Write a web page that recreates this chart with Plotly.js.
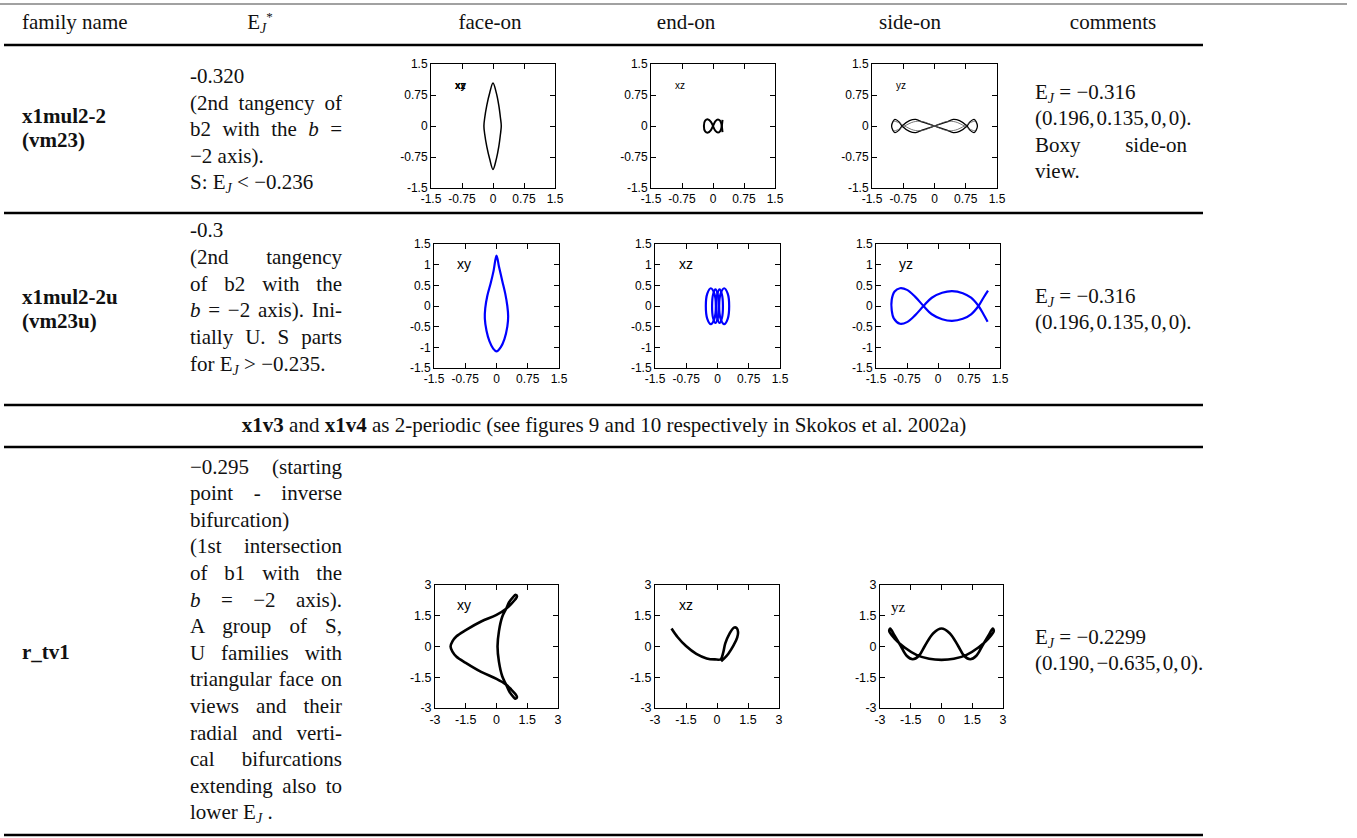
<!DOCTYPE html>
<html><head><meta charset="utf-8">
<script src="https://cdn.plot.ly/plotly-3.0.1.min.js"></script>
<style>
html,body{margin:0;padding:0;background:#fff;}
#wrap{position:relative;width:1357px;height:838px;overflow:hidden;background:#fff;}
#plot{position:absolute;left:0;top:0;width:1357px;height:838px;}
.t{position:absolute;font-family:"Liberation Serif","Times New Roman",serif;font-size:21px;line-height:26px;color:#111;white-space:nowrap;z-index:2;}
.j{width:152px;white-space:normal;text-align:justify;text-align-last:justify;}
.b{font-weight:bold;}
.n{line-height:24px;}
.c{text-align:center;}
sub.J{font-size:14px;font-style:italic;vertical-align:-4px;line-height:0;}
sup.st{font-size:13px;vertical-align:8px;line-height:0;}
.cm{margin-right:2px;}
</style></head><body>
<div id="wrap">
<div id="plot"></div>

<div class="t" style="left:22px;top:9px">family name</div>
<div class="t c" style="left:210px;top:9px;width:100px">E<sub class="J">J</sub><sup class="st">*</sup></div>
<div class="t c" style="left:440px;top:9px;width:100px">face-on</div>
<div class="t c" style="left:636px;top:9px;width:100px">end-on</div>
<div class="t c" style="left:860px;top:9px;width:100px">side-on</div>
<div class="t c" style="left:1063px;top:9px;width:100px">comments</div>

<div class="t b n" style="left:22px;top:104px">x1mul2-2<br>(vm23)</div>
<div class="t" style="left:190px;top:63px">-0.320</div>
<div class="t j" style="left:190px;top:89.5px">(2nd tangency of</div>
<div class="t j" style="left:190px;top:116px">b2 with the <i>b</i> =</div>
<div class="t" style="left:190px;top:142.5px">&minus;2 axis).</div>
<div class="t" style="left:190px;top:169px">S: E<sub class="J">J</sub> &lt; &minus;0.236</div>
<div class="t" style="left:1035px;top:78.5px">E<sub class="J">J</sub> = &minus;0.316</div>
<div class="t" style="left:1035px;top:105px">(0.196,<span class="cm"></span>0.135,<span class="cm"></span>0,<span class="cm"></span>0).</div>
<div class="t j" style="left:1035px;top:131.5px">Boxy side-on</div>
<div class="t" style="left:1035px;top:158px">view.</div>

<div class="t b n" style="left:22px;top:285px">x1mul2-2u<br>(vm23u)</div>
<div class="t" style="left:190px;top:217px">-0.3</div>
<div class="t j" style="left:190px;top:244px">(2nd tangency</div>
<div class="t j" style="left:190px;top:270.5px">of b2 with the</div>
<div class="t j" style="left:190px;top:297px"><i>b</i> = &minus;2 axis). Ini-</div>
<div class="t j" style="left:190px;top:324px">tially U. S parts</div>
<div class="t" style="left:190px;top:350.5px">for E<sub class="J">J</sub> &gt; &minus;0.235.</div>
<div class="t" style="left:1035px;top:283px">E<sub class="J">J</sub> = &minus;0.316</div>
<div class="t" style="left:1035px;top:309px">(0.196,<span class="cm"></span>0.135,<span class="cm"></span>0,<span class="cm"></span>0).</div>

<div class="t c" style="left:5px;top:412px;width:1198px"><b>x1v3</b> and <b>x1v4</b> as 2-periodic (see figures 9 and 10 respectively in Skokos et al. 2002a)</div>

<div class="t b" style="left:22px;top:639px">r_tv1</div>
<div class="t j" style="left:190px;top:453.5px">&minus;0.295 (starting</div>
<div class="t j" style="left:190px;top:480.1px">point - inverse</div>
<div class="t" style="left:190px;top:506.7px">bifurcation)</div>
<div class="t j" style="left:190px;top:533.3px">(1st intersection</div>
<div class="t j" style="left:190px;top:559.9px">of b1 with the</div>
<div class="t j" style="left:190px;top:586.5px"><i>b</i> = &minus;2 axis).</div>
<div class="t j" style="left:190px;top:613.1px">A group of S,</div>
<div class="t j" style="left:190px;top:639.7px">U families with</div>
<div class="t j" style="left:190px;top:666.3px">triangular face on</div>
<div class="t j" style="left:190px;top:692.9px">views and their</div>
<div class="t j" style="left:190px;top:719.5px">radial and verti-</div>
<div class="t j" style="left:190px;top:746.1px">cal bifurcations</div>
<div class="t j" style="left:190px;top:772.7px">extending also to</div>
<div class="t" style="left:190px;top:799.3px">lower E<sub class="J">J</sub> .</div>
<div class="t" style="left:1035px;top:624px">E<sub class="J">J</sub> = &minus;0.2299</div>
<div class="t" style="left:1035px;top:650px">(0.190,<span class="cm"></span>&minus;0.635,<span class="cm"></span>0,<span class="cm"></span>0).</div>
</div>

<script>
// ---------------- data ----------------
const familyNames = ["x1mul2-2", "x1mul2-2u", "r_tv1"];
const viewNames = ["face-on", "end-on", "side-on"];

const ticks15 = [-1.5, -0.75, 0, 0.75, 1.5];
const ticks15Text = ["-1.5", "-0.75", "0", "0.75", "1.5"];
const ticksHalf = [-1.5, -1, -0.5, 0, 0.5, 1, 1.5];
const ticksHalfText = ["-1.5", "-1", "-0.5", "0", "0.5", "1", "1.5"];
const ticks3 = [-3, -1.5, 0, 1.5, 3];
const ticks3Text = ["-3", "-1.5", "0", "1.5", "3"];

// x1mul2-2 (vm23)
const vm23_xy_x = [0.0, 0.08, 0.14, 0.18, 0.2, 0.18, 0.14, 0.08, 0.0, -0.08, -0.15, -0.2, -0.22, -0.2, -0.15, -0.08, 0.0];
const vm23_xy_y = [1.04, 0.8, 0.5, 0.2, 0.0, -0.2, -0.5, -0.8, -1.05, -0.8, -0.5, -0.2, 0.0, 0.2, 0.5, 0.8, 1.04];
const vm23_xz_x = [0, -0.05, -0.12, -0.19, -0.22, -0.19, -0.12, -0.05, 0, 0.06, 0.12, 0.17, 0.2, 0.23, null, 0.23, 0.2, 0.17, 0.12, 0.06, 0];
const vm23_xz_z = [0, 0.1, 0.16, 0.13, 0, -0.13, -0.16, -0.1, 0, 0.12, 0.16, 0.13, 0.06, -0.15, null, 0.15, -0.06, -0.13, -0.16, -0.12, 0];
const vm23_yz_y = [-1.03, -1.0, -0.95, -0.85, -0.78, -0.6, -0.45, -0.3, -0.15, 0, 0.15, 0.3, 0.45, 0.6, 0.78, 0.85, 0.95, 1.0, 1.03,
                   1.0, 0.95, 0.85, 0.78, 0.6, 0.45, 0.3, 0.15, 0, -0.15, -0.3, -0.45, -0.6, -0.78, -0.85, -0.95, -1.0, -1.03];
const vm23_yz_z = [0, 0.1, 0.16, 0.1, 0, -0.13, -0.16, -0.1, -0.05, 0, 0.05, 0.1, 0.16, 0.13, 0, -0.1, -0.16, -0.1, 0,
                   0.1, 0.16, 0.1, 0, -0.13, -0.16, -0.1, -0.05, 0, 0.05, 0.1, 0.16, 0.13, 0, -0.1, -0.16, -0.1, 0];
const vm23_yz2_y = [-0.98, -0.9, -0.72, -0.5, -0.3, 0, 0.3, 0.5, 0.72, 0.9, 0.98, null, 0.98, 0.9, 0.72, 0.5, 0.3, 0, -0.3, -0.5, -0.72, -0.9, -0.98];
const vm23_yz2_z = [0.12, 0.1, 0.0, -0.1, -0.11, 0, 0.11, 0.1, 0.0, -0.1, -0.12, null, 0.12, 0.1, 0.0, -0.1, -0.11, 0, 0.11, 0.1, 0.0, -0.1, -0.12];

// x1mul2-2u (vm23u)
const vm23u_xy_x = [0.0, 0.06, 0.14, 0.21, 0.26, 0.28, 0.26, 0.19, 0.1, 0.0, -0.08, -0.17, -0.24, -0.28, -0.27, -0.22, -0.14, -0.07, 0.0];
const vm23u_xy_y = [1.22, 0.95, 0.6, 0.3, 0.0, -0.25, -0.5, -0.8, -1.0, -1.1, -1.03, -0.85, -0.6, -0.3, -0.05, 0.25, 0.55, 0.85, 1.22];
const vm23u_xz_x = [-0.04, -0.075, -0.16, -0.245, -0.28, -0.245, -0.16, -0.075, -0.04, null,
                    0.03, 0.006, -0.05, -0.106, -0.13, -0.106, -0.05, 0.006, 0.03, null,
                    0.13, 0.106, 0.05, -0.006, -0.03, -0.006, 0.05, 0.106, 0.13, null,
                    0.28, 0.245, 0.16, 0.075, 0.04, 0.075, 0.16, 0.245, 0.28];
const vm23u_xz_z = [0, 0.3, 0.43, 0.3, 0, -0.31, -0.44, -0.31, 0, null,
                    0, 0.28, 0.4, 0.28, 0, -0.29, -0.41, -0.29, 0, null,
                    0, 0.28, 0.4, 0.28, 0, -0.29, -0.41, -0.29, 0, null,
                    0, 0.3, 0.43, 0.3, 0, -0.31, -0.44, -0.31, 0];
const vm23u_yz_y = [1.21, 1.1, 0.98, 0.8, 0.6, 0.34, 0.1, -0.15, -0.35, -0.55, -0.75, -0.92, -1.05, -1.12, -1.12, -1.07, -0.92, -0.75, -0.55, -0.35, -0.15, 0.1, 0.34, 0.6, 0.8, 0.98, 1.1, 1.2];
const vm23u_yz_z = [0.37, 0.2, 0.0, -0.2, -0.31, -0.36, -0.32, -0.2, 0.0, 0.22, 0.39, 0.43, 0.35, 0.15, -0.1, -0.3, -0.43, -0.39, -0.22, 0.0, 0.2, 0.32, 0.36, 0.31, 0.2, 0.0, -0.2, -0.38];

// r_tv1
const rtv1_xy_x = [-2.24, -2.15, -1.95, -1.5, -0.75, 0.0, 0.47, 0.72, 0.92, 1.0, 0.93, 0.8, 0.62, 0.47, 0.28, 0.12, 0.05,
                   0.12, 0.28, 0.47, 0.62, 0.8, 0.93, 1.0, 0.92, 0.72, 0.47, 0.0, -0.75, -1.5, -1.95, -2.15, -2.24];
const rtv1_xy_y = [0.0, 0.25, 0.5, 0.8, 1.22, 1.54, 1.84, 2.08, 2.3, 2.45, 2.52, 2.4, 2.17, 1.84, 1.45, 0.75, 0.0,
                   -0.75, -1.45, -1.86, -2.19, -2.43, -2.55, -2.47, -2.32, -2.1, -1.86, -1.58, -1.24, -0.8, -0.5, -0.25, 0.0];
const rtv1_xz_x = [-2.2, -1.9, -1.5, -1.0, -0.5, -0.1, 0.18, 0.3, 0.4, 0.6, 0.82, 0.95, 1.02, 0.98, 0.8, 0.55, 0.35, 0.2];
const rtv1_xz_z = [0.88, 0.45, 0.02, -0.36, -0.58, -0.63, -0.62, -0.3, 0.15, 0.62, 0.92, 0.9, 0.7, 0.45, 0.05, -0.35, -0.58, -0.72];
const rtv1_yz_y = [-2.5, -2.3, -2.0, -1.7, -1.4, -1.1, -0.8, -0.4, 0, 0.4, 0.8, 1.1, 1.4, 1.7, 2.0, 2.3, 2.5,
                   2.55, 2.3, 1.8, 1.2, 0.6, 0, -0.6, -1.2, -1.8, -2.3, -2.55, -2.5];
const rtv1_yz_z = [0.88, 0.55, 0.05, -0.45, -0.62, -0.45, 0.05, 0.65, 0.88, 0.65, 0.05, -0.45, -0.62, -0.45, 0.05, 0.55, 0.88,
                   0.75, 0.4, -0.05, -0.42, -0.6, -0.65, -0.6, -0.42, -0.05, 0.4, 0.75, 0.88];

// ---------------- layout (positions / styles) ----------------
const W = 1357, H = 838;
const px = v => v / W, py = v => 1 - v / H;
const SANS = 'Liberation Sans, Arial, sans-serif';

const panels = [
  {box:[431,555,64,188], curves:[[vm23_xy_x, vm23_xy_y]], r:1.5, xt:[ticks15,ticks15Text], yt:[ticks15,ticks15Text], fs:12, color:'#000', lw:1.5, lab:['xy','xz'], lx:-0.97, ly:0.99, lfs:10, lfam:SANS, lbold:true},
  {box:[651,775,64,188], curves:[[vm23_xz_x, vm23_xz_z]], r:1.5, xt:[ticks15,ticks15Text], yt:[ticks15,ticks15Text], fs:12, color:'#000', lw:2.0, lab:['xz'], lx:-0.97, ly:0.99, lfs:10, lfam:SANS},
  {box:[872,997,64,188], curves:[[vm23_yz_y, vm23_yz_z], [vm23_yz2_y, vm23_yz2_z, 0.8, '#555']], r:1.5, xt:[ticks15,ticks15Text], yt:[ticks15,ticks15Text], fs:12, color:'#000', lw:1.3, lab:['yz'], lx:-0.97, ly:0.99, lfs:10, lfam:SANS},
  {box:[434,559,244,368], curves:[[vm23u_xy_x, vm23u_xy_y]], r:1.5, xt:[ticks15,ticks15Text], yt:[ticksHalf,ticksHalfText], fs:12, color:'#0000ff', lw:2.2, lab:['xy'], lx:-1.0, ly:1.02, lfs:14, lfam:SANS},
  {box:[655,780,244,368], curves:[[vm23u_xz_x, vm23u_xz_z]], r:1.5, xt:[ticks15,ticks15Text], yt:[ticksHalf,ticksHalfText], fs:12, color:'#0000ff', lw:2.2, lab:['xz'], lx:-0.97, ly:1.02, lfs:14, lfam:SANS},
  {box:[876,1000,244,368], curves:[[vm23u_yz_y, vm23u_yz_z]], r:1.5, xt:[ticks15,ticks15Text], yt:[ticksHalf,ticksHalfText], fs:12, color:'#0000ff', lw:2.2, lab:['yz'], lx:-0.99, ly:1.02, lfs:14, lfam:SANS},
  {box:[435,558,585,708], curves:[[rtv1_xy_x, rtv1_xy_y]], r:3, xt:[ticks3,ticks3Text], yt:[ticks3,ticks3Text], fs:12.5, color:'#000', lw:2.6, lab:['xy'], lx:-2.02, ly:2.02, lfs:14, lfam:SANS},
  {box:[655,779,585,708], curves:[[rtv1_xz_x, rtv1_xz_z]], r:3, xt:[ticks3,ticks3Text], yt:[ticks3,ticks3Text], fs:12.5, color:'#000', lw:2.6, lab:['xz'], lx:-1.94, ly:2.02, lfs:14, lfam:SANS},
  {box:[880,1003,585,708], curves:[[rtv1_yz_y, rtv1_yz_z]], r:3, xt:[ticks3,ticks3Text], yt:[ticks3,ticks3Text], fs:12.5, color:'#000', lw:2.6, lab:['yz'], lx:-2.56, ly:1.93, lfs:15, lfam:'Liberation Serif, Times New Roman, serif'}
];

const traces = [];
const layout = {
  width: W, height: H, margin:{l:0,r:0,t:0,b:0,pad:0},
  paper_bgcolor:'rgba(0,0,0,0)', plot_bgcolor:'rgba(0,0,0,0)',
  showlegend:false, annotations:[], shapes:[]
};

panels.forEach((p, i) => {
  const n = i === 0 ? '' : String(i + 1);
  const [L, R, T, B] = p.box;
  const axBase = {
    ticks:'inside', ticklen:5, tickwidth:1, tickcolor:'#000',
    showline:true, linecolor:'#000', linewidth:1, mirror:'ticks',
    showgrid:false, zeroline:false, fixedrange:true,
    range:[-p.r, p.r], tickmode:'array',
    tickfont:{family:SANS, size:p.fs, color:'#000'}
  };
  layout['xaxis' + n] = Object.assign({}, axBase, {domain:[px(L), px(R)], anchor:'y' + n, tickvals:p.xt[0], ticktext:p.xt[1]});
  layout['yaxis' + n] = Object.assign({}, axBase, {domain:[py(B), py(T)], anchor:'x' + n, tickvals:p.yt[0], ticktext:p.yt[1]});
  p.curves.forEach(c => {
    traces.push({
      type:'scatter', mode:'lines', x:c[0], y:c[1], xaxis:'x' + n, yaxis:'y' + n,
      line:{color:c[3] || p.color, width:c[2] || p.lw, shape:'spline', smoothing:1}, connectgaps:false,
      hoverinfo:'skip', showlegend:false
    });
  });
  p.lab.forEach(txt => {
    layout.annotations.push({
      xref:'x' + n, yref:'y' + n, x:p.lx, y:p.ly, text:p.lbold ? '<b>' + txt + '</b>' : txt,
      showarrow:false, xanchor:'left', yanchor:'middle',
      font:{family:p.lfam, size:p.lfs, color:'#000'}
    });
  });
});

// table rules
const rule = (y, x0, x1, w, c) => ({type:'line', xref:'paper', yref:'paper', x0:px(x0), x1:px(x1), y0:py(y), y1:py(y), line:{color:c, width:w}});
layout.shapes.push(rule(4, 0, 1347, 1.2, '#444'));
[45, 213, 405, 447, 835].forEach(y => layout.shapes.push(rule(y, 4, 1203, 2.6, '#000')));

Plotly.newPlot('plot', traces, layout, {staticPlot:true, displayModeBar:false});
</script>
</body></html>
